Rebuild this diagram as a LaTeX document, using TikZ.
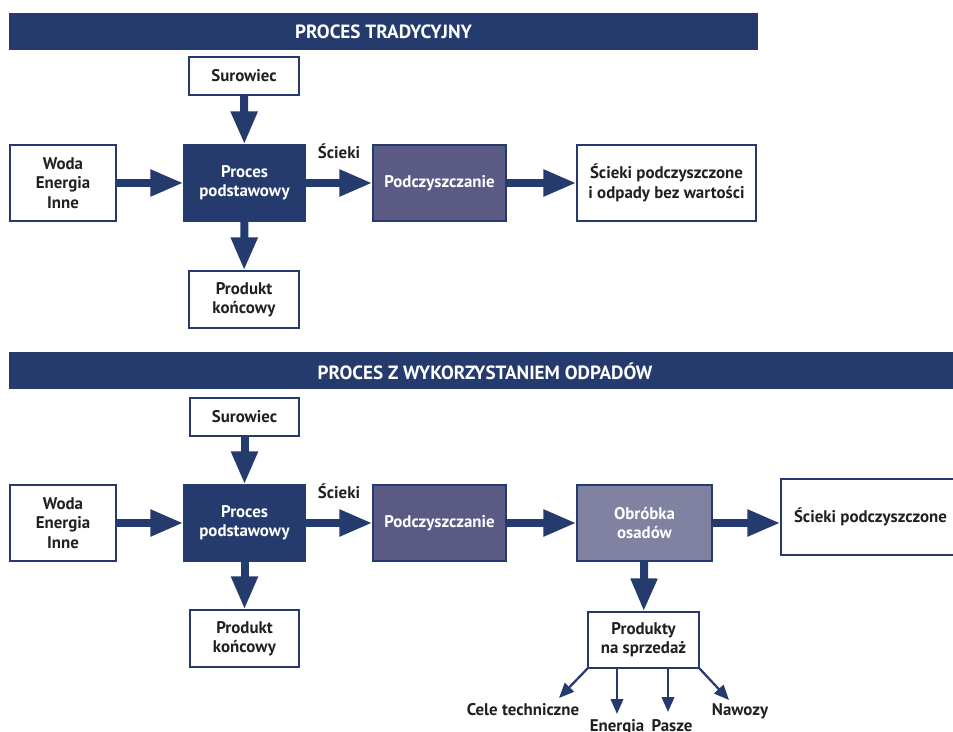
\documentclass[tikz,border=0pt]{standalone}
\usepackage{fontspec}
\setmainfont{PT Sans}
\usetikzlibrary{arrows.meta}
\definecolor{navy}{HTML}{253B6E}
\definecolor{slate}{HTML}{5A5A85}
\definecolor{lilac}{HTML}{8181A1}
\definecolor{ink}{HTML}{231F20}
\tikzset{
  hdr/.style={fill=navy, text=white, font=\fontsize{10.9}{12}\selectfont\bfseries,
    minimum height=0.74cm, inner sep=0pt},
  box/.style={draw=navy, line width=0.7pt, fill=white, text=ink, align=center,
    font=\fontsize{9.6}{11}\selectfont\bfseries, inner sep=1pt},
  darkbox/.style={box, fill=navy, text=white},
  midbox/.style={box, fill=slate, text=white},
  lightbox/.style={box, fill=lilac, text=white},
  lbl/.style={text=ink, font=\fontsize{9.6}{11}\selectfont\bfseries, inner sep=0pt,
    text height=0.72em, text depth=0.22em},
  flow/.style={navy, line width=0.16cm, -{Triangle[length=0.66cm,width=0.5cm]}},
  split/.style={navy, line width=0.045cm, -{Triangle[length=0.3cm,width=0.25cm]}},
}

\begin{document}
\begin{tikzpicture}[x=0.02cm, y=-0.02cm]
  \clip (0,0) rectangle (953,732);
  \fill[white] (0,0) rectangle (953,732);

  % TRADITIONAL PROCESS
  \node[hdr, minimum width=14.98cm] (hdrA) at (383.5,31.5) {PROCES TRADYCYJNY};
  \node[box, minimum width=2.2cm, minimum height=0.76cm] (surA) at (244,76) {Surowiec};
  \node[box, minimum width=2.12cm, minimum height=1.52cm] (wodaA) at (63,183) {Woda\\Energia\\Inne};
  \node[darkbox, minimum width=2.42cm, minimum height=1.52cm] (procA) at (244.5,183) {Proces\\podstawowy};
  \node[midbox, minimum width=2.66cm, minimum height=1.52cm] (podA) at (439.5,183) {Podczyszczanie};
  \node[box, minimum width=3.58cm, minimum height=1.52cm] (outA) at (666.5,183) {Ścieki podczyszczone\\i odpady bez wartości};
  \node[box, minimum width=2.2cm, minimum height=1.14cm] (prodA) at (244,299.5) {Produkt\\końcowy};
  \node[lbl] (sciA) at (339,154) {Ścieki};

  \draw[flow] (surA) -- (procA);
  \draw[flow] (wodaA) -- (procA);
  \draw[flow] (procA) -- (podA);
  \draw[flow] (podA) -- (outA);
  \draw[flow] (procA) -- (prodA);

  % PROCESS WITH WASTE RECOVERY
  \node[hdr, minimum width=19.04cm] (hdrB) at (485,371) {PROCES Z WYKORZYSTANIEM ODPADÓW};
  \node[box, minimum width=2.18cm, minimum height=0.76cm] (surB) at (244.5,417) {Surowiec};
  \node[box, minimum width=2.12cm, minimum height=1.52cm] (wodaB) at (63,523) {Woda\\Energia\\Inne};
  \node[darkbox, minimum width=2.42cm, minimum height=1.52cm] (procB) at (244.5,523) {Proces\\podstawowy};
  \node[midbox, minimum width=2.66cm, minimum height=1.52cm] (podB) at (439.5,523) {Podczyszczanie};
  \node[lightbox, minimum width=2.7cm, minimum height=1.52cm] (osB) at (644.5,523) {Obróbka\\osadów};
  \node[box, minimum width=3.58cm, minimum height=1.52cm] (outB) at (870.5,517) {Ścieki podczyszczone};
  \node[box, minimum width=2.18cm, minimum height=1.14cm] (prodB) at (244.5,638.5) {Produkt\\końcowy};
  \node[box, minimum width=2.22cm, minimum height=1.12cm] (sale) at (643.5,640) {Produkty\\na sprzedaż};
  \node[lbl] (sciB) at (339,494) {Ścieki};

  \draw[flow] (surB) -- (procB);
  \draw[flow] (wodaB) -- (procB);
  \draw[flow] (procB) -- (podB);
  \draw[flow] (podB) -- (osB);
  \draw[flow] (osB.east) -- (outB.west |- osB.east);
  \draw[flow] (procB) -- (prodB);
  \draw[flow] (osB) -- (sale);

  % products
  \coordinate (tipC) at (559,698);
  \coordinate (tipE) at (617,714);
  \coordinate (tipP) at (668,712);
  \coordinate (tipN) at (729,700);
  \draw[split] (sale.south west) -- (tipC);
  \draw[split] (sale.south west -| tipE) -- (tipE);
  \draw[split] (sale.south west -| tipP) -- (tipP);
  \draw[split] (sale.south east) -- (tipN);
  \node[lbl] (cele) at (523,711) {Cele techniczne};
  \node[lbl] (ener) at (617,727) {Energia};
  \node[lbl] (pasze) at (672,727) {Pasze};
  \node[lbl] (nawozy) at (740,711) {Nawozy};
\end{tikzpicture}
\end{document}
